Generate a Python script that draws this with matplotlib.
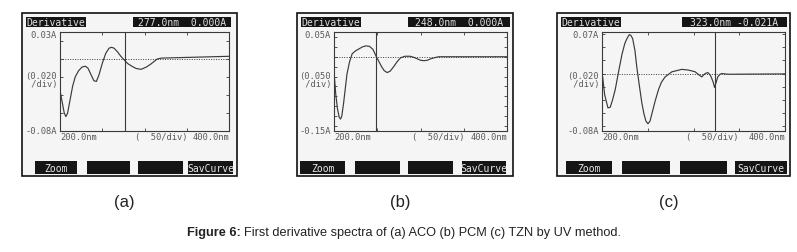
import numpy as np
import matplotlib.pyplot as plt
from matplotlib.patches import Rectangle

W, H = 797, 253

# panel (a) ACO
wl_a = [200, 202, 205, 207, 209, 212, 215, 218, 222, 226, 230, 233, 236, 240, 243,
        246, 250, 254, 258, 261, 264, 268, 272, 275, 280, 285, 290, 296, 302, 307,
        311, 315, 320, 360, 400]
d_a = [-0.035, -0.045, -0.060, -0.064, -0.060, -0.045, -0.030, -0.020, -0.013, -0.009,
       -0.008, -0.010, -0.016, -0.024, -0.025, -0.018, -0.005, 0.006, 0.012, 0.013,
       0.012, 0.008, 0.003, 0.0, -0.005, -0.008, -0.0105, -0.0115, -0.009, -0.006,
       -0.003, 0.0, 0.001, 0.002, 0.003]

# panel (b) PCM
wl_b = [200, 202, 204, 206, 207.5, 209, 211, 213, 215, 218, 221, 225, 229, 233, 237,
        241, 245, 249, 252, 255, 258, 261.5, 265, 269, 273, 277, 282, 288, 292, 296,
        300, 304, 308, 312, 316, 321, 400]
d_b = [-0.030, -0.075, -0.105, -0.122, -0.126, -0.120, -0.095, -0.065, -0.035, -0.010,
       0.006, 0.012, 0.016, 0.020, 0.022, 0.021, 0.015, 0.0, -0.010, -0.020, -0.028,
       -0.032, -0.029, -0.020, -0.010, -0.002, 0.001, 0.001, -0.001, -0.004, -0.007,
       -0.008, -0.007, -0.004, -0.002, 0.0, 0.0]

# panel (c) TZN
wl_c = [200.7, 202.9, 206.5, 209, 211.5, 214.5, 218, 221.8, 225, 227.3, 229.8, 231.5,
        233.5, 236, 238.2, 241, 243.6, 246, 248, 250.2, 252.5, 254.5, 258, 261.8, 265,
        269, 276.4, 287.3, 294.5, 301.8, 306, 309, 312.7, 315.6, 317.5, 319.3, 321.5,
        323, 324.8, 326.5, 329, 331, 338, 400]
d_c = [-0.005, -0.032, -0.052, -0.051, -0.040, -0.024, 0.002, 0.029, 0.046, 0.053,
       0.059, 0.058, 0.053, 0.035, 0.008, -0.020, -0.045, -0.062, -0.072, -0.076,
       -0.072, -0.061, -0.042, -0.024, -0.013, -0.005, 0.0027, 0.0064, 0.0053, 0.0027,
       -0.002, -0.005, 0.0, 0.0016, -0.001, -0.005, -0.013, -0.021, -0.013, -0.005,
       -0.001, 0.0, -0.001, -0.0005]

panels = [
    dict(x0=22, x1=237, ax=(60, 229), wl=wl_a, d=d_a, ylim=(-0.08, 0.03), cur=277.0,
         top="0.03A", bot="-0.08A", div="(0.020", read="277.0nm  0.000A", cap="(a)",
         rd=(133, 231), btn=[(35, 77), (87, 130), (138, 183), (188, 233)]),
    dict(x0=297, x1=513, ax=(334, 507), wl=wl_b, d=d_b, ylim=(-0.15, 0.05), cur=248.0,
         top="0.05A", bot="-0.15A", div="(0.050", read="248.0nm  0.000A", cap="(b)",
         rd=(408, 510), btn=[(300, 345), (355, 400), (408, 453), (462, 506)]),
    dict(x0=557, x1=790, ax=(602, 785), wl=wl_c, d=d_c, ylim=(-0.087, 0.063), cur=323.0,
         top="0.07A", bot="-0.08A", div="(0.020", read="323.0nm -0.021A", cap="(c)",
         rd=(682, 787), btn=[(566, 612), (622, 670), (680, 727), (735, 787)]),
]

fig = plt.figure(figsize=(W / 100, H / 100), dpi=100)
fig.patch.set_facecolor('white')

def fx(x):
    return x / W

def fy(y):
    return 1 - y / H

mono = 'DejaVu Sans Mono'
sans = 'Liberation Sans'
gray = '#5a5a5a'
line = '#3a3a3a'
ytop, ybot = 33, 132

for p in panels:
    # screen frame
    fig.patches.append(Rectangle((fx(p['x0']), fy(177)), (p['x1'] - p['x0']) / W, 163 / H,
                                 transform=fig.transFigure, facecolor='#f5f5f5',
                                 edgecolor='#111111', lw=1.2, zorder=0))
    # header boxes
    fig.patches.append(Rectangle((fx(p['x0'] + 4), fy(28)), 60 / W, 10 / H,
                                 transform=fig.transFigure, facecolor='#151515', lw=0))
    fig.text(fx(p['x0'] + 34), fy(23), "Derivative", family=mono, fontsize=7,
             color='#e0e0e0', ha='center', va='center')
    r0, r1 = p['rd']
    fig.patches.append(Rectangle((fx(r0), fy(28)), (r1 - r0) / W, 10 / H,
                                 transform=fig.transFigure, facecolor='#151515', lw=0))
    fig.text(fx((r0 + r1) / 2), fy(23), p['read'], family=mono, fontsize=7,
             color='#e0e0e0', ha='center', va='center')
    # bottom buttons
    for i, (b0, b1) in enumerate(p['btn']):
        fig.patches.append(Rectangle((fx(b0), fy(175)), (b1 - b0) / W, 13 / H,
                                     transform=fig.transFigure, facecolor='#151515', lw=0))
        lab = {0: "Zoom", 3: "SavCurve"}.get(i, "")
        fig.text(fx((b0 + b1) / 2), fy(168.5), lab, family=mono, fontsize=7,
                 color='#e8e8e8', ha='center', va='center')

    a0, a1 = p['ax']
    ax = fig.add_axes([fx(a0), fy(ybot), (a1 - a0) / W, (ybot - ytop) / H])
    ax.set_zorder(2)
    ax.set_facecolor('none')
    ax.plot(p['wl'], p['d'], color=line, lw=0.85)
    ax.axhline(0, color=line, lw=0.7, ls=(0, (1, 1.5)))
    ax.axvline(p['cur'], color=line, lw=0.8)
    ax.set_xlim(200, 400)
    ax.set_ylim(*p['ylim'])
    ax.set_xticks(np.arange(200, 401, 50))
    ax.set_yticks(np.arange(0, p['ylim'][0], -0.02).tolist() + np.arange(0.02, p['ylim'][1], 0.02).tolist())
    ax.tick_params(direction='in', length=2.5, width=0.6, color=line,
                   top=True, right=True, labelleft=False, labelbottom=False)
    for s in ax.spines.values():
        s.set_color(line)
        s.set_linewidth(0.8)

    # screen labels
    fig.text(fx(a0 - 3), fy(ytop + 3), p['top'], family=mono, fontsize=6.3, color=gray,
             ha='right', va='center')
    fig.text(fx(a0 - 3), fy(ybot - 1), p['bot'], family=mono, fontsize=6.3, color=gray,
             ha='right', va='center')
    fig.text(fx(a0 - 3), fy(77), p['div'], family=mono, fontsize=6.3, color=gray,
             ha='right', va='center')
    fig.text(fx(a0 - 3), fy(85), " /div)", family=mono, fontsize=6.3, color=gray,
             ha='right', va='center')
    fig.text(fx(a0), fy(138), "200.0nm", family=mono, fontsize=6.3, color=gray,
             ha='left', va='center')
    fig.text(fx(a0 + (a1 - a0) * 0.6), fy(138), "(  50/div)", family=mono, fontsize=6.3,
             color=gray, ha='center', va='center')
    fig.text(fx(a1), fy(138), "400.0nm", family=mono, fontsize=6.3, color=gray,
             ha='right', va='center')

    fig.text(fx((p['x0'] + p['x1']) / 2 - 5), fy(203), p['cap'], fontsize=12,
             family=sans, color='#222222', ha='center', va='center')

# caption: bold lead + normal text
t1 = fig.text(fx(187), fy(233), "Figure 6:", fontsize=9.2, family=sans, weight='bold',
              color='#222222', ha='left', va='center')
fig.canvas.draw()
bb = t1.get_window_extent()
fig.text(fx(bb.x1 + 3), fy(233), "First derivative spectra of (a) ACO (b) PCM (c) TZN by UV method.",
         fontsize=9.2, family=sans, color='#222222', ha='left', va='center')

fig.savefig('out.png', dpi=100)
